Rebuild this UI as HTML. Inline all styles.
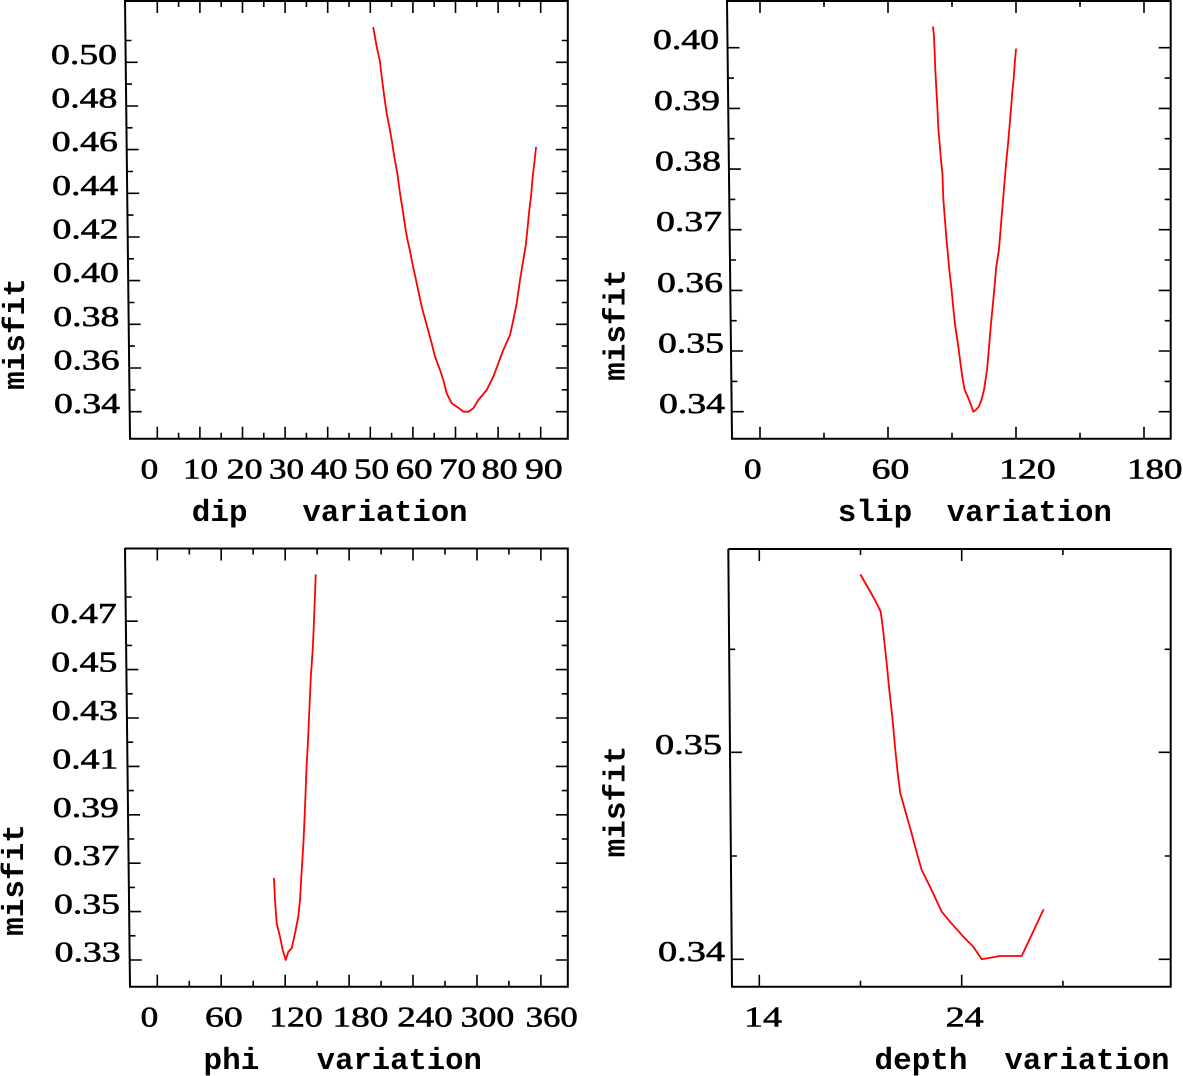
<!DOCTYPE html>
<html><head><meta charset="utf-8"><style>html,body{margin:0;padding:0;background:#fff;}svg{display:block}</style></head>
<body>
<svg xmlns="http://www.w3.org/2000/svg" width="1183" height="1076" viewBox="0 0 1183 1076">
<rect width="1183" height="1076" fill="#fff"/>
<g fill="none" stroke="#000" stroke-width="2">
<path d="M125 0 L130 438.7 L568.8 438.7 M567.8 439.5 L567.8 0 M125 1 L568.8 1"/>
<path d="M727 0 L732 438.7 L1171.7 438.7 M1170.7 439.5 L1170.7 0 M727 1 L1171.7 1"/>
<path d="M125 548 L130 986.7 L568.8 986.7 M567.8 987.5 L567.8 548 M125 548.5 L568.8 548.5"/>
<path d="M728.3 549 L732 986.7 L1171.7 986.7 M1170.7 987.5 L1170.7 549 M728.3 549 L1171.7 549"/>
</g>
<g fill="none" stroke="#000" stroke-width="1.6">
<path d="M125.7 62.3h12M126.2 106h12M126.7 149.6h12M127.2 193.3h12M127.7 237h12M128.2 280.6h12M128.7 324.3h12M129.2 368h12M129.7 411.7h12
M125.5 40.5h6M126 84.1h6M126.5 127.8h6M127 171.5h6M127.5 215.1h6M127.9 258.8h6M128.4 302.5h6M128.9 346.1h6M129.4 389.8h6
M567.8 62.3h-12M567.8 106h-12M567.8 149.6h-12M567.8 193.3h-12M567.8 237h-12M567.8 280.6h-12M567.8 324.3h-12M567.8 368h-12M567.8 411.7h-12
M567.8 40.5h-6M567.8 84.1h-6M567.8 127.8h-6M567.8 171.5h-6M567.8 215.1h-6M567.8 258.8h-6M567.8 302.5h-6M567.8 346.1h-6M567.8 389.8h-6
M157.3 438.7v-12M199.9 438.7v-12M242.5 438.7v-12M285.1 438.7v-12M327.7 438.7v-12M370.3 438.7v-12M412.9 438.7v-12M455.5 438.7v-12M498.1 438.7v-12M540.7 438.7v-12
M178.6 438.7v-6M221.2 438.7v-6M263.8 438.7v-6M306.4 438.7v-6M349 438.7v-6M391.6 438.7v-6M434.2 438.7v-6M476.8 438.7v-6M519.4 438.7v-6
M157.3 1v12M199.9 1v12M242.5 1v12M285.1 1v12M327.7 1v12M370.3 1v12M412.9 1v12M455.5 1v12M498.1 1v12M540.7 1v12
M178.6 1v6M221.2 1v6M263.8 1v6M306.4 1v6M349 1v6M391.6 1v6M434.2 1v6M476.8 1v6M519.4 1v6"/>
<path d="M727.5 47.7h12M728.2 108.4h12M728.9 169.1h12M729.6 229.7h12M730.3 290.4h12M731 351h12M731.7 411.7h12
M727.9 78.1h6M728.6 138.7h6M729.3 199.4h6M730 260h6M730.7 320.7h6M731.3 381.4h6
M1170.7 47.7h-12M1170.7 108.4h-12M1170.7 169.1h-12M1170.7 229.7h-12M1170.7 290.4h-12M1170.7 351h-12M1170.7 411.7h-12
M1170.7 78.1h-6M1170.7 138.7h-6M1170.7 199.4h-6M1170.7 260h-6M1170.7 320.7h-6M1170.7 381.4h-6
M760 438.7v-12M888 438.7v-12M1016 438.7v-12M1144 438.7v-12M824 438.7v-6M952 438.7v-6M1080 438.7v-6
M760 1v12M888 1v12M1016 1v12M1144 1v12M824 1v6M952 1v6M1080 1v6"/>
<path d="M125.8 621.2h12M126.4 669.6h12M126.9 718h12M127.5 766.4h12M128 814.8h12M128.6 863.2h12M129.1 911.6h12M129.7 960h12
M125.6 597h6M126.1 645.4h6M126.7 693.8h6M127.2 742.2h6M127.8 790.6h6M128.3 839h6M128.9 887.4h6M129.4 935.8h6
M567.8 621.2h-12M567.8 669.6h-12M567.8 718h-12M567.8 766.4h-12M567.8 814.8h-12M567.8 863.2h-12M567.8 911.6h-12M567.8 960h-12
M567.8 597h-6M567.8 645.4h-6M567.8 693.8h-6M567.8 742.2h-6M567.8 790.6h-6M567.8 839h-6M567.8 887.4h-6M567.8 935.8h-6
M157.3 986.7v-12M221.2 986.7v-12M285.2 986.7v-12M349.1 986.7v-12M413 986.7v-12M477 986.7v-12M540.9 986.7v-12
M189.3 986.7v-6M253.2 986.7v-6M317.1 986.7v-6M381.1 986.7v-6M445 986.7v-6M508.9 986.7v-6
M157.3 548.5v12M221.2 548.5v12M285.2 548.5v12M349.1 548.5v12M413 548.5v12M477 548.5v12M540.9 548.5v12
M189.3 548.5v6M253.2 548.5v6M317.1 548.5v6M381.1 548.5v6M445 548.5v6M508.9 548.5v6"/>
<path d="M730 752.3h12M731.8 959.3h12M729.1 649.3h6M730.9 856h6
M1170.7 752.3h-12M1170.7 959.3h-12M1170.7 649.3h-6M1170.7 856h-6
M759.3 986.7v-12M961.7 986.7v-12M860.5 986.7v-6M1062.9 986.7v-6
M759.3 549v12M961.7 549v12M860.5 549v6M1062.9 549v6"/>
</g>
<g fill="none" stroke="#ff0000" stroke-width="1.8" stroke-linejoin="round" stroke-linecap="round">
<polyline points="373.3,27.7 374.3,33.3 376.7,46.7 380,61.7 381.7,76.7 384.3,96.7 386.7,113.3 389.3,126.7 391.7,140 394.3,156.7 397.3,173.3 400,193.3 402.7,210 405.7,230 407.5,240 409.8,250 411.7,260 416.7,283.3 421.7,306.7 426.7,325 431.7,343.3 435,356.7 440,370 443.3,380 446.7,393.3 451.7,403.3 458.3,407.7 463.3,411.7 468.3,411.7 473.3,408.3 478.3,400 486.7,390 493.3,376.7 498.3,363.3 503.3,350 510,335 513.3,320 516.7,303.3 520,280 523.3,260 525.8,245 527.7,226.7 529.3,210 531,196.7 532.7,176.7 534.3,163.3 536,147.7"/>
<polyline points="933,27.3 934,36.7 934.7,53.3 935.4,71.7 936.5,91.7 937.5,110 938.2,126.7 939.6,143.3 941,160 942.4,173.3 943.4,200 946,233.3 949,266.7 951.6,290 953.5,310 955.3,326.7 957.9,343.3 960.9,366.7 962.8,380 964.7,390 968.4,398.3 971,405 973.2,411.7 975.8,410 978.8,406.7 981.4,400 984,390 987,370 988.8,350 990.7,326.7 993.3,300 996.3,266.7 998.9,250 1001.1,223.3 1003.3,196.7 1005.3,173.3 1006.4,160 1008.1,143.3 1009.5,126.7 1010.9,110 1012.2,93.3 1013.6,80 1015,60 1016,49.3"/>
<polyline points="274,878.5 275,900 276.7,923.3 280,936.7 282.7,950 285.7,960 288.3,951.7 291.7,948.3 295,933.3 298.3,916.7 300,900 301.6,872.6 303.5,841.8 305,807.5 306.6,766.3 307.8,745 309,718 310.8,677 312.7,650 313.8,626 315,595 315.7,575"/>
<polyline points="860.7,575 869.3,590 875,600 880.7,611.7 882.7,626.7 886.7,663.3 889.3,690 892.3,716.7 895,746.7 897.7,773.3 900.3,793.3 905,810 910.7,830 916,850 921.7,870 930,886.7 941.7,911.7 950,921.7 963.3,936.7 973.3,946.7 981.7,959.3 1000,956 1021.7,956 1043.3,910"/>
</g>
<g font-family="'Liberation Serif', serif" font-size="29" fill="#000" stroke="#000" stroke-width="0.6">
<text x="51" y="63.8" textLength="66" lengthAdjust="spacingAndGlyphs">0.50</text>
<text x="51.4" y="107.5" textLength="66" lengthAdjust="spacingAndGlyphs">0.48</text>
<text x="51.8" y="151.1" textLength="66" lengthAdjust="spacingAndGlyphs">0.46</text>
<text x="52.1" y="194.8" textLength="66" lengthAdjust="spacingAndGlyphs">0.44</text>
<text x="52.5" y="238.5" textLength="66" lengthAdjust="spacingAndGlyphs">0.42</text>
<text x="52.9" y="282.1" textLength="66" lengthAdjust="spacingAndGlyphs">0.40</text>
<text x="53.3" y="325.8" textLength="66" lengthAdjust="spacingAndGlyphs">0.38</text>
<text x="53.6" y="369.5" textLength="66" lengthAdjust="spacingAndGlyphs">0.36</text>
<text x="54" y="413.2" textLength="66" lengthAdjust="spacingAndGlyphs">0.34</text>
<text x="140.7" y="478.5" textLength="17.6" lengthAdjust="spacingAndGlyphs">0</text>
<text x="183" y="478.5" textLength="35" lengthAdjust="spacingAndGlyphs">10</text>
<text x="226.7" y="478.5" textLength="36" lengthAdjust="spacingAndGlyphs">20</text>
<text x="269" y="478.5" textLength="35" lengthAdjust="spacingAndGlyphs">30</text>
<text x="310.7" y="478.5" textLength="37" lengthAdjust="spacingAndGlyphs">40</text>
<text x="354" y="478.5" textLength="35" lengthAdjust="spacingAndGlyphs">50</text>
<text x="395.7" y="478.5" textLength="37" lengthAdjust="spacingAndGlyphs">60</text>
<text x="439" y="478.5" textLength="37" lengthAdjust="spacingAndGlyphs">70</text>
<text x="481.7" y="478.5" textLength="36" lengthAdjust="spacingAndGlyphs">80</text>
<text x="525" y="478.5" textLength="37.7" lengthAdjust="spacingAndGlyphs">90</text>
<text x="653" y="49.2" textLength="66" lengthAdjust="spacingAndGlyphs">0.40</text>
<text x="654" y="109.9" textLength="66" lengthAdjust="spacingAndGlyphs">0.39</text>
<text x="655" y="170.6" textLength="66" lengthAdjust="spacingAndGlyphs">0.38</text>
<text x="656" y="231.2" textLength="66" lengthAdjust="spacingAndGlyphs">0.37</text>
<text x="657" y="291.9" textLength="66" lengthAdjust="spacingAndGlyphs">0.36</text>
<text x="658" y="352.5" textLength="66" lengthAdjust="spacingAndGlyphs">0.35</text>
<text x="659" y="413.2" textLength="66" lengthAdjust="spacingAndGlyphs">0.34</text>
<text x="744" y="478.5" textLength="17.6" lengthAdjust="spacingAndGlyphs">0</text>
<text x="871.7" y="478.5" textLength="37.6" lengthAdjust="spacingAndGlyphs">60</text>
<text x="999.2" y="478.5" textLength="56.5" lengthAdjust="spacingAndGlyphs">120</text>
<text x="1127" y="478.5" textLength="55.5" lengthAdjust="spacingAndGlyphs">180</text>
<text x="50.7" y="623.2" textLength="66" lengthAdjust="spacingAndGlyphs">0.47</text>
<text x="51.3" y="671.6" textLength="66" lengthAdjust="spacingAndGlyphs">0.45</text>
<text x="51.8" y="720" textLength="66" lengthAdjust="spacingAndGlyphs">0.43</text>
<text x="52.4" y="768.4" textLength="66" lengthAdjust="spacingAndGlyphs">0.41</text>
<text x="52.9" y="816.8" textLength="66" lengthAdjust="spacingAndGlyphs">0.39</text>
<text x="53.5" y="865.2" textLength="66" lengthAdjust="spacingAndGlyphs">0.37</text>
<text x="54" y="913.4" textLength="66" lengthAdjust="spacingAndGlyphs">0.35</text>
<text x="54.6" y="961.5" textLength="66" lengthAdjust="spacingAndGlyphs">0.33</text>
<text x="140.7" y="1026.7" textLength="17.6" lengthAdjust="spacingAndGlyphs">0</text>
<text x="205" y="1026.7" textLength="37.7" lengthAdjust="spacingAndGlyphs">60</text>
<text x="269.2" y="1026.7" textLength="53.5" lengthAdjust="spacingAndGlyphs">120</text>
<text x="332.5" y="1026.7" textLength="55.8" lengthAdjust="spacingAndGlyphs">180</text>
<text x="397.3" y="1026.7" textLength="55.4" lengthAdjust="spacingAndGlyphs">240</text>
<text x="460.7" y="1026.7" textLength="53.6" lengthAdjust="spacingAndGlyphs">300</text>
<text x="525.7" y="1026.7" textLength="52" lengthAdjust="spacingAndGlyphs">360</text>
<text x="655" y="753.8" textLength="67" lengthAdjust="spacingAndGlyphs">0.35</text>
<text x="658" y="960.8" textLength="67" lengthAdjust="spacingAndGlyphs">0.34</text>
<text x="744" y="1026.7" textLength="38" lengthAdjust="spacingAndGlyphs">14</text>
<text x="945.7" y="1026.7" textLength="38" lengthAdjust="spacingAndGlyphs">24</text>
</g>
<g font-family="'Liberation Mono', monospace" font-weight="bold" font-size="31" fill="#000">
<text x="191.8" y="521">dip</text>
<text x="302.5" y="521" textLength="165" lengthAdjust="spacingAndGlyphs">variation</text>
<text x="837.8" y="521">slip</text>
<text x="946.8" y="521" textLength="165" lengthAdjust="spacingAndGlyphs">variation</text>
<text x="203.5" y="1069">phi</text>
<text x="316.8" y="1069" textLength="165" lengthAdjust="spacingAndGlyphs">variation</text>
<text x="874.5" y="1069">depth</text>
<text x="1004.5" y="1069" textLength="165" lengthAdjust="spacingAndGlyphs">variation</text>
<text transform="translate(24,334) rotate(-90)" text-anchor="middle">misfit</text>
<text transform="translate(624.5,325) rotate(-90)" text-anchor="middle">misfit</text>
<text transform="translate(23,880) rotate(-90)" text-anchor="middle">misfit</text>
<text transform="translate(624.5,801.5) rotate(-90)" text-anchor="middle">misfit</text>
</g>
</svg>
</body></html>
